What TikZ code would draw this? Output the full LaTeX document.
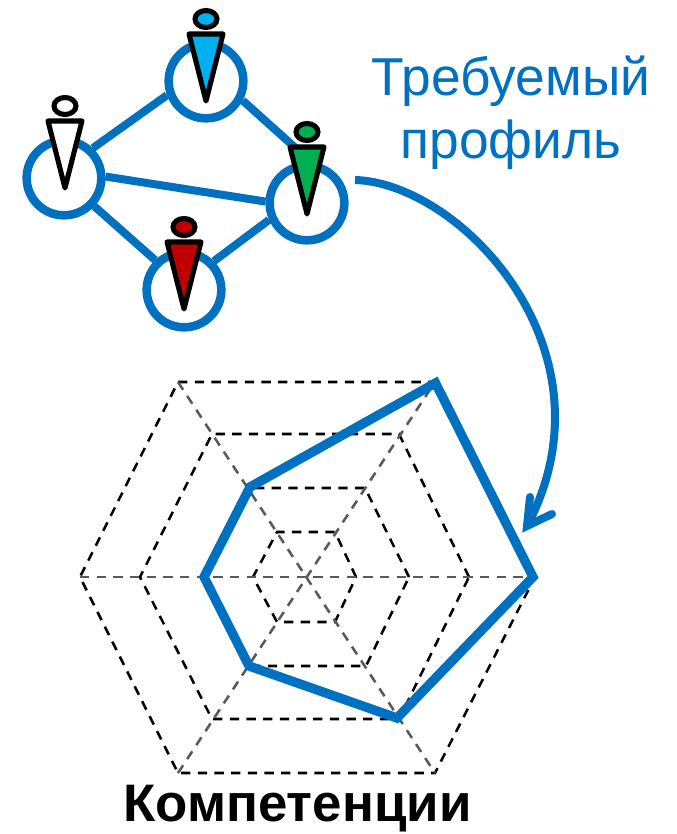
\documentclass[tikz,border=0pt]{standalone}
\usepackage{xcolor}
\usepackage{fontspec}
\setmainfont{Liberation Sans}
\usepackage{tikz}
\definecolor{profile blue}{HTML}{0070C0}
\definecolor{spoke gray}{HTML}{595959}
\definecolor{member blue}{HTML}{00B0F0}
\definecolor{member green}{HTML}{00B050}
\definecolor{member red}{HTML}{C00000}
\tikzset{
member/.style = { circle, draw = profile blue, fill = white, line width = 6.4pt, minimum size = 56pt, inner sep = 0pt },
link/.style = { draw = profile blue, line width = 6pt },
ring/.style = { draw = black, line width = 1.9pt, dash pattern = on 7pt off 5.5pt },
spoke/.style = { draw = spoke gray, line width = 1.9pt, dash pattern = on 7pt off 5.5pt },
profile/.style = { draw = profile blue, line width = 7pt, line join = miter },
}
\tikzset{
pics/person/.style args={#1}{
        code = {
        \path[draw = black, fill = #1, line width = 3.8pt, line join = round] (-17, 0) -- (17, 0) -- (0, 67) -- cycle;
        \path[draw = black, fill = #1, line width = 3.8pt] (0, -15) ellipse [x radius = 11, y radius = 8.5];
        }
    }
}
\begin{document}
\begin{tikzpicture}[x = 0.75pt, y = -0.75pt]
      \useasboundingbox (0, 0) rectangle (677, 834);
      % team
      \node[member] (left member) at (64, 178) {};
      \node[member] (top member) at (206, 81) {};
      \node[member] (right member) at (307, 203) {};
      \node[member] (bottom member) at (184, 290) {};
      \draw[link] (left member.46) -- (top member.200);
      \draw[link] (top member.-28) -- (right member.85);
      \draw[link] (left member.2) -- (right member.178);
      \draw[link] (left member.-43) -- (bottom member.134);
      \draw[link] (bottom member.44) -- (right member.204);
      \draw (65, 121) pic{person = {white}};
      \draw (206, 34) pic{person = {member blue}};
      \draw (307, 147) pic{person = {member green}};
      \draw (184, 242) pic{person = {member red}};
      \node[profile blue, font = \fontsize{40pt}{47.5pt}\selectfont, align = center] (profile label) at (511, 113) {Требуемый\\профиль};
      % chart
      \coordinate (center) at (306, 577);
      \coordinate (outer e) at (535, 577);
      \coordinate (outer ne) at (435, 382);
      \coordinate (outer nw) at (178, 382);
      \coordinate (outer w) at (80, 577);
      \coordinate (outer sw) at (178, 773);
      \coordinate (outer se) at (435, 773);
      \draw[ring] (outer e) -- (outer ne) -- (outer nw) -- (outer w) -- (outer sw) -- (outer se) -- cycle;
      \draw[ring] (469, 577) -- (399, 434) -- (212, 434) -- (140, 577) -- (212, 719) -- (399, 719) -- cycle;
      \draw[ring] (409, 577) -- (365, 488) -- (250, 488) -- (203, 577) -- (250, 666) -- (366, 666) -- cycle;
      \draw[ring] (356, 577) -- (335, 532) -- (277, 532) -- (253, 577) -- (277, 622) -- (335, 622) -- cycle;
      \draw[spoke] (outer w) -- (outer e);
      \draw[spoke] (outer nw) -- (outer se);
      \draw[spoke] (outer sw) -- (outer ne);
      \draw[profile] (435.5, 383) -- (533, 577) -- (397, 718) -- (249, 666) -- (204, 577) -- (250, 487) -- cycle;
      % arrow
      \coordinate (arrow start) at (355, 180);
      \coordinate (arrow end) at (527, 526);
      \coordinate (barb left) at (530, 497);
      \coordinate (barb right) at (552, 514);
      \draw[profile blue, line width = 6pt] (arrow start) .. controls (460, 183) and (620, 350) .. (arrow end);
      \draw[profile blue, line width = 6pt, line cap = round, line join = miter] (barb left) -- (arrow end) -- (barb right);
      \node[font = \fontsize{39.6pt}{46pt}\selectfont\bfseries] (skills label) at (297.5, 809) {Компетенции};
    \end{tikzpicture}
\end{document}
